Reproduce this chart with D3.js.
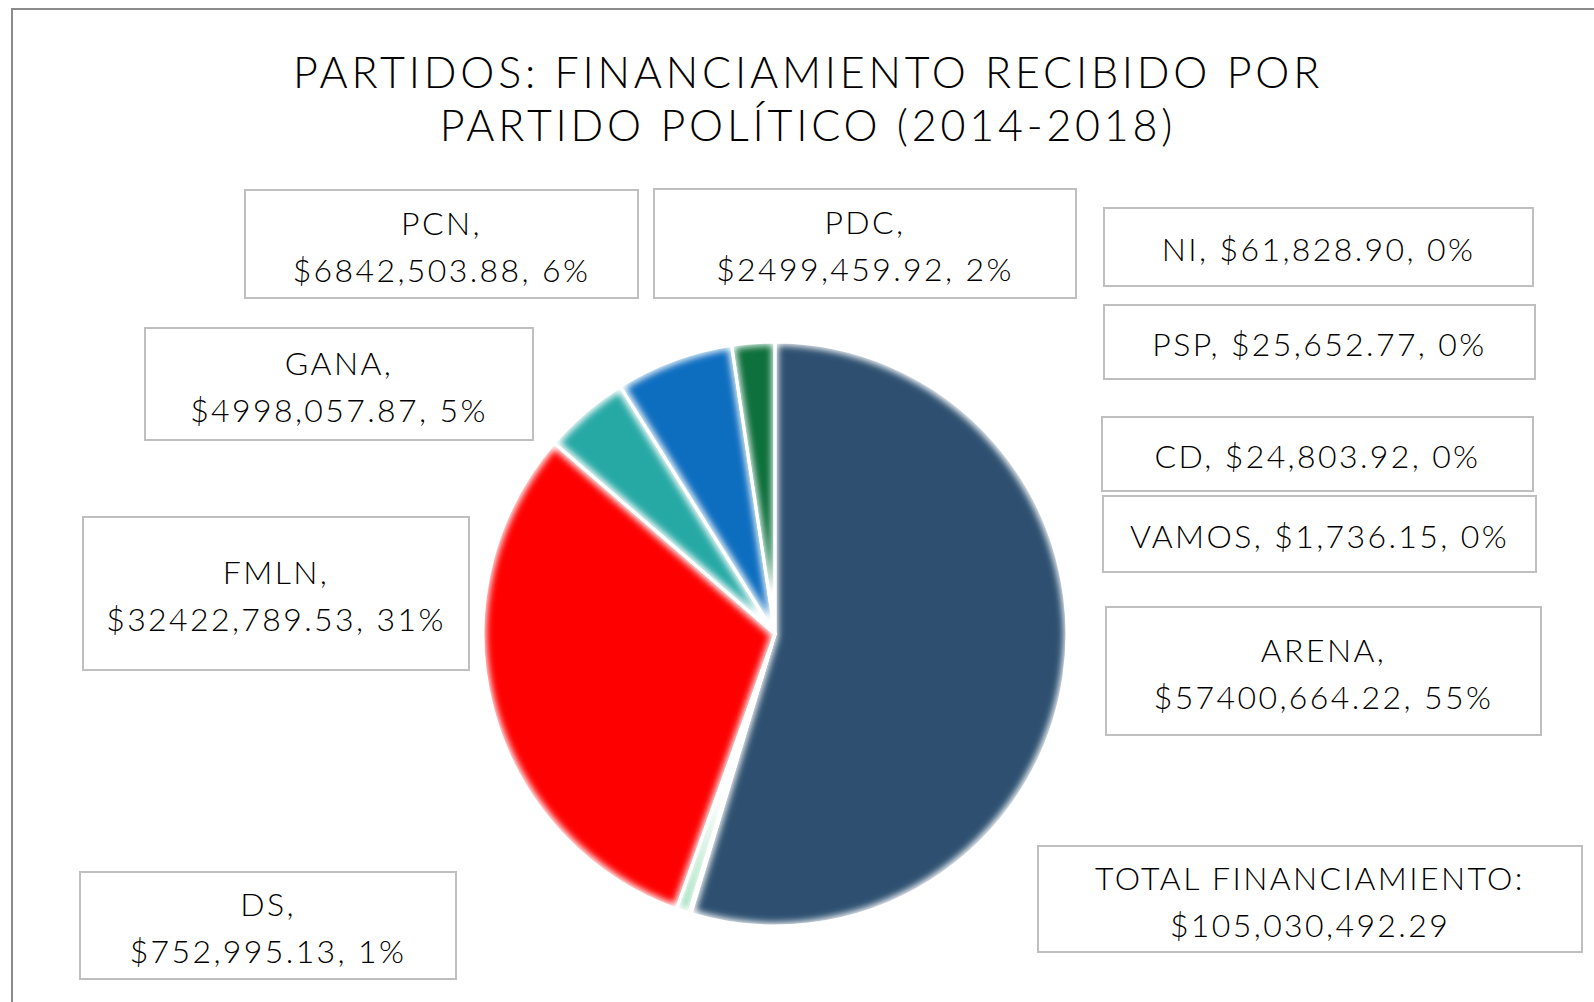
<!DOCTYPE html>
<html>
<head>
<meta charset="utf-8">
<script src="https://cdn.jsdelivr.net/npm/d3@7"></script>
<style>
  body { margin: 0; background: #fff; }
  svg { display: block; }
</style>
</head>
<body>
<div class="main"></div>
<script>
// Paramètres
const width = 1594;
const height = 1002;

// Données
const partidos = ['ARENA', 'NI', 'PSP', 'CD', 'VAMOS', 'DS', 'FMLN', 'GANA', 'PCN', 'PDC'];
const montos = [57400664.22, 61828.90, 25652.77, 24803.92, 1736.15, 752995.13, 32422789.53, 4998057.87, 6842503.88, 2499459.92];
const porcentajes = [55, 0, 0, 0, 0, 1, 31, 5, 6, 2];
const colores = ['#2D5070', '#7F7F7F', '#A5A5A5', '#FFC000', '#5B9BD5', '#70D09A', '#FF0000', '#27A9A5', '#0D6EC0', '#0A703C'];
const titulo = ['PARTIDOS: FINANCIAMIENTO RECIBIDO POR', 'PARTIDO POLÍTICO (2014-2018)'];

// Position des étiquettes (x, y, largeur, hauteur, sur deux lignes ?)
const etiquettes = {
  ARENA: [1106, 607, 435, 128, true],
  NI:    [1104, 208, 429, 78, false],
  PSP:   [1104, 305, 431, 74, false],
  CD:    [1102, 417, 431, 74, false],
  VAMOS: [1103, 496, 433, 76, false],
  DS:    [80, 872, 376, 107, true],
  FMLN:  [83, 517, 386, 153, true],
  GANA:  [145, 328, 388, 112, true],
  PCN:   [245, 190, 393, 108, true],
  PDC:   [654, 189, 422, 109, true]
};
const boiteTotal = [1038, 846, 544, 106];

const data = partidos.map((p, i) => ({ partido: p, monto: montos[i], pct: porcentajes[i] }));
const total = d3.sum(montos);

const fmtMonto = v => {
  const s = v.toFixed(2).split('.');
  const e = s[0].length > 3 ? s[0].slice(0, -3) + ',' + s[0].slice(-3) : s[0];
  return '$' + e + '.' + s[1];
};

const svg = d3.select('.main')
  .append('svg')
  .attr('width', width)
  .attr('height', height)
  .style('font-family', 'Lato, sans-serif');

// Filtre "bords adoucis"
const defs = svg.append('defs');
const f = defs.append('filter').attr('id', 'soft')
  .attr('x', '-5%').attr('y', '-5%').attr('width', '110%').attr('height', '110%');
f.append('feMorphology').attr('in', 'SourceAlpha').attr('operator', 'erode').attr('radius', 3).attr('result', 'er');
f.append('feGaussianBlur').attr('in', 'er').attr('stdDeviation', 3.5).attr('result', 'bl');
f.append('feComposite').attr('in', 'SourceGraphic').attr('in2', 'bl').attr('operator', 'in');

// Cadre
svg.append('rect')
  .attr('x', 12).attr('y', 9)
  .attr('width', 1700).attr('height', 1100)
  .attr('fill', 'none')
  .attr('stroke', '#8C8C8C')
  .attr('stroke-width', 2);

// Titre
svg.append('text')
  .attr('x', 808)
  .attr('y', 88)
  .attr('text-anchor', 'middle')
  .style('font-size', '43px')
  .style('font-weight', 300)
  .style('letter-spacing', '3.8px')
  .style('fill', '#000')
  .selectAll('tspan')
  .data(titulo)
  .join('tspan')
  .attr('x', 808)
  .attr('dy', (d, i) => i ? 53 : 0)
  .text(d => d);

// Camembert
const color = d3.scaleOrdinal(partidos, colores);
const pie = d3.pie().sort(null).value(d => d.monto);
const radius = 292;
const arc = d3.arc().innerRadius(0).outerRadius(radius);

const g = svg.append('g').attr('transform', 'translate(775,634)');

g.selectAll('path.slice')
  .data(pie(data))
  .join('path')
  .attr('class', 'slice')
  .attr('d', arc)
  .attr('fill', d => color(d.data.partido))
  .attr('filter', 'url(#soft)');

g.selectAll('path.edge')
  .data(pie(data))
  .join('path')
  .attr('class', 'edge')
  .attr('d', arc)
  .attr('fill', 'none')
  .attr('stroke', '#fff')
  .attr('stroke-width', 3)
  .attr('stroke-linejoin', 'round');

// Étiquettes
function boite(b, lignes) {
  const [x, y, w, h] = b;
  svg.append('rect')
    .attr('x', x).attr('y', y).attr('width', w).attr('height', h)
    .attr('fill', '#fff')
    .attr('stroke', '#BFBFBF')
    .attr('stroke-width', 2);
  const cy = y + h / 2;
  svg.append('text')
    .attr('text-anchor', 'middle')
    .style('font-size', '32px')
    .style('font-weight', 300)
    .style('letter-spacing', '2.4px')
    .style('fill', '#000')
    .selectAll('tspan')
    .data(lignes)
    .join('tspan')
    .attr('x', x + w / 2)
    .attr('y', (d, i) => cy + (i - (lignes.length - 1) / 2) * 47 + 14)
    .text(d => d);
}

data.forEach(d => {
  const e = etiquettes[d.partido];
  const valeur = fmtMonto(d.monto) + ', ' + d.pct + '%';
  const lignes = e[4] ? [d.partido + ',', valeur] : [d.partido + ', ' + valeur];
  boite(e, lignes);
});

boite(boiteTotal, ['TOTAL FINANCIAMIENTO:', '$' + d3.format(',.2f')(total)]);
</script>
</body>
</html>
